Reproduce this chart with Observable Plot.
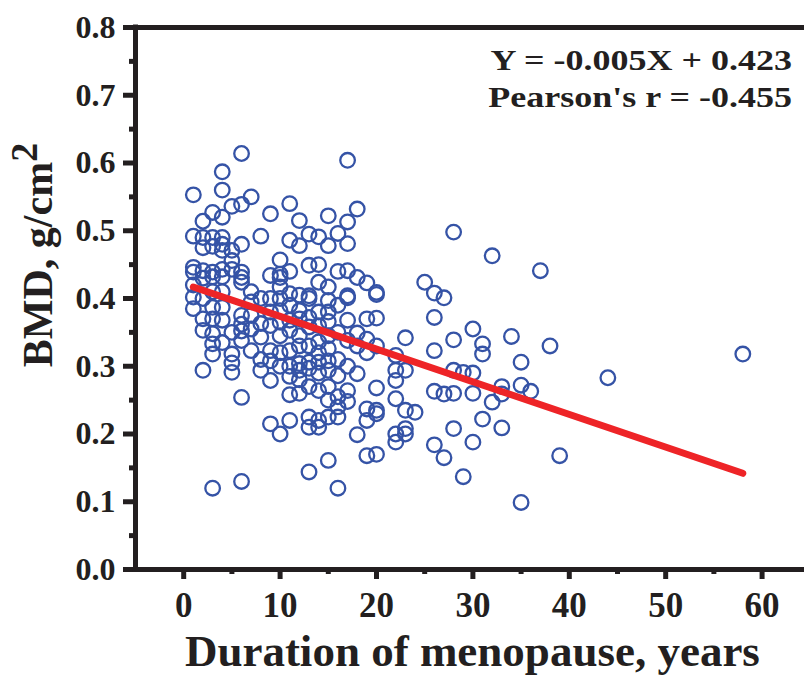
<!DOCTYPE html>
<html><head><meta charset="utf-8">
<script src="https://cdn.jsdelivr.net/npm/d3@7"></script>
<script src="https://cdn.jsdelivr.net/npm/@observablehq/plot@0.6"></script>
<style>html,body{margin:0;padding:0;background:#fff;overflow:hidden}</style>
</head><body><div id="chart"></div>
<script>
// Duration of menopause (years) and the BMD readings observed at each duration
const years = [1,2,3,4,5,6,7,8,9,10,11,12,13,14,15,16,17,18,19,20,22,23,24,25,26,27,28,29,30,31,32,33,34,35,36,37,38,39,44,58];
const bmdAtYear = [
  [0.553,0.492,0.446,0.439,0.42,0.402,0.385],
  [0.514,0.49,0.475,0.441,0.43,0.40,0.37,0.353,0.294],
  [0.527,0.49,0.477,0.439,0.432,0.41,0.387,0.37,0.348,0.333,0.318,0.12],
  [0.587,0.56,0.52,0.49,0.48,0.471,0.443,0.432,0.41,0.387,0.368,0.335],
  [0.536,0.471,0.456,0.443,0.35,0.318,0.305,0.291],
  [0.614,0.539,0.48,0.439,0.431,0.424,0.375,0.362,0.352,0.338,0.254,0.13],
  [0.55,0.41,0.395,0.375,0.355,0.323],
  [0.492,0.40,0.363,0.343,0.31,0.294],
  [0.525,0.434,0.40,0.38,0.36,0.323,0.308,0.279,0.215],
  [0.457,0.436,0.431,0.417,0.40,0.382,0.365,0.345,0.32,0.30,0.2],
  [0.54,0.486,0.44,0.407,0.39,0.368,0.353,0.323,0.30,0.285,0.258,0.22],
  [0.515,0.478,0.405,0.382,0.37,0.345,0.33,0.304,0.294,0.28,0.26],
  [0.495,0.449,0.404,0.4,0.372,0.358,0.33,0.306,0.297,0.27,0.225,0.21,0.144],
  [0.491,0.45,0.424,0.38,0.36,0.336,0.32,0.306,0.29,0.264,0.22,0.21],
  [0.522,0.478,0.417,0.397,0.38,0.366,0.345,0.326,0.308,0.294,0.27,0.25,0.225,0.161],
  [0.496,0.44,0.39,0.35,0.31,0.286,0.255,0.24,0.225,0.12],
  [0.604,0.513,0.481,0.441,0.404,0.401,0.368,0.338,0.30,0.264,0.248],
  [0.532,0.431,0.349,0.33,0.289,0.199],
  [0.423,0.37,0.34,0.32,0.237,0.22,0.168],
  [0.409,0.406,0.371,0.33,0.268,0.235,0.23,0.17],
  [0.316,0.294,0.279,0.252,0.2,0.188],
  [0.342,0.294,0.235,0.208,0.2],
  [0.232],
  [0.424],
  [0.408,0.372,0.323,0.263,0.184],
  [0.401,0.259,0.165],
  [0.498,0.339,0.294,0.26,0.208],
  [0.291,0.137],
  [0.355,0.29,0.26,0.188],
  [0.333,0.318,0.222],
  [0.463,0.247],
  [0.27,0.259,0.209],
  [0.344],
  [0.306,0.272,0.099],
  [0.263],
  [0.441],
  [0.33],
  [0.168],
  [0.283],
  [0.318]
];
// Fitted regression line end points
const fitX = [1, 58];
const fitY = [0.417, 0.142];
// Axis ticks
const xTicks = [0,10,20,30,40,50,60];
const xMinorTicks = [5,15,25,35,45,55];
const yTicks = [0,0.1,0.2,0.3,0.4,0.5,0.6,0.7,0.8];
const yMinorTicks = [0.05,0.15,0.25,0.35,0.45,0.55,0.65,0.75];
// Texts
const equationText = "Y = -0.005X + 0.423";
const pearsonText = "Pearson's r = -0.455";
const xLabel = "Duration of menopause, years";
const yLabelMain = "BMD, g/cm";
const yLabelSup = "2";

const points = years.flatMap((yr, i) => bmdAtYear[i].map(v => ({duration: yr, bmd: v})));
const fit = fitX.map((x, i) => ({x, y: fitY[i]}));

const FONT = "'Liberation Serif', 'Times New Roman', Times, serif";
const INK = "#231f20";

const plot = Plot.plot({
  width: 804,
  height: 678,
  marginLeft: 135,
  marginRight: 0,
  marginTop: 27,
  marginBottom: 109,
  style: {fontFamily: FONT, fontWeight: "bold", color: INK, background: "#fff", overflow: "visible"},
  x: {domain: [-5, 64.4]},
  y: {domain: [0, 0.8]},
  marks: [
    Plot.dot(points, {x: "duration", y: "bmd", r: 7.3, stroke: "#3553a6", strokeWidth: 2.3, fill: "none"}),
    Plot.line(fit, {x: "x", y: "y", stroke: "#ee2427", strokeWidth: 7}),
    Plot.axisX({ticks: xTicks, tickSize: 10, tickPadding: 13, strokeWidth: 5, fontSize: 35, tickFormat: d => String(d), label: null, stroke: INK, fill: INK}),
    Plot.axisX({ticks: xMinorTicks, tickSize: 5, strokeWidth: 5, tickFormat: () => "", label: null, stroke: INK}),
    Plot.axisY({ticks: yTicks, tickSize: 12, tickPadding: 8, strokeWidth: 5, fontSize: 32, tickFormat: d => d.toFixed(1), label: null, stroke: INK, fill: INK}),
    Plot.axisY({ticks: yMinorTicks, tickSize: 6, strokeWidth: 5, tickFormat: () => "", label: null, stroke: INK}),
    Plot.ruleX([-5], {strokeWidth: 5, stroke: INK, strokeLinecap: "square"}),
    Plot.ruleY([0, 0.8], {strokeWidth: 5, stroke: INK, strokeLinecap: "square"})
  ]
});

const svg = d3.select(plot);
const xs = plot.scale("x");

// regression annotation, top right
[[equationText, 70], [pearsonText, 107]].forEach(([t, base]) => {
  svg.append("text")
    .attr("transform", `translate(792,${base}) scale(1.2,1)`)
    .attr("text-anchor", "end")
    .attr("font-size", 30)
    .attr("font-weight", "bold")
    .attr("font-family", FONT)
    .attr("fill", INK)
    .text(t);
});

svg.append("text")
  .attr("x", xs.apply(30))
  .attr("y", 666)
  .attr("text-anchor", "middle")
  .attr("font-size", 45)
  .attr("font-weight", "bold")
  .attr("font-family", FONT)
  .attr("fill", INK)
  .text(xLabel);

const yl = svg.append("text")
  .attr("transform", "translate(52,255) rotate(-90)")
  .attr("text-anchor", "middle")
  .attr("font-size", 42)
  .attr("font-weight", "bold")
  .attr("font-family", FONT)
  .attr("fill", INK);
yl.append("tspan").text(yLabelMain);
yl.append("tspan").attr("dy", -15).attr("font-size", 38).text(yLabelSup);

document.getElementById("chart").appendChild(plot);
</script>
</body></html>
